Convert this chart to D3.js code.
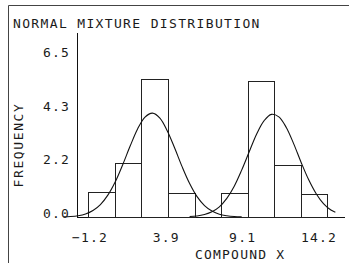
<!DOCTYPE html>
<html>
<head>
<meta charset="utf-8">
<script src="https://cdn.jsdelivr.net/npm/d3@7"></script>
<style>
  body { margin: 0; background: #fff; }
  svg { display: block; }
  text { font-family: "DejaVu Sans Mono", "Liberation Mono", monospace; fill: #1a1a1a; }
</style>
</head>
<body>
<div class="chart"></div>
<script>
// histogram bins (compound x) and frequencies
const binEdges = [-1.33, 0.46, 2.25, 4.04, 5.83, 7.61, 9.40, 11.19, 12.98, 14.77];
const binFreq = [1.01, 2.18, 5.56, 0.97, 0, 0.97, 5.48, 2.10, 0.93];

// fitted normal components
const curve1X = [-3.0, -2.5, -2.0, -1.5, -1.0, -0.5, 0.0, 0.5, 1.0, 1.5, 2.0, 2.5, 3.0, 3.5, 4.0, 4.5, 5.0, 5.5, 6.0, 6.5, 7.0, 7.5, 8.0, 8.5, 9.0];
const curve1Y = [0.01, 0.02, 0.05, 0.12, 0.26, 0.50, 0.88, 1.42, 2.11, 2.86, 3.55, 4.03, 4.19, 3.99, 3.47, 2.77, 2.02, 1.35, 0.82, 0.46, 0.24, 0.11, 0.05, 0.02, 0.01];
const curve2X = [5.5, 6.0, 6.5, 7.0, 7.5, 8.0, 8.5, 9.0, 9.5, 10.0, 10.5, 11.0, 11.5, 12.0, 12.5, 13.0, 13.5, 14.0, 14.5, 15.0, 15.3];
const curve2Y = [0.02, 0.04, 0.10, 0.21, 0.41, 0.75, 1.24, 1.89, 2.62, 3.34, 3.88, 4.14, 4.04, 3.61, 2.95, 2.20, 1.51, 0.95, 0.54, 0.28, 0.19];

const xTicks = [-1.2, 3.933, 9.067, 14.2];
const yTicks = [0, 2.1667, 4.3333, 6.5];

const title = "NORMAL MIXTURE DISTRIBUTION";
const xTitle = "COMPOUND X";
const yTitle = "FREQUENCY";

const width = 349, height = 263;

const svg = d3.select(".chart")
  .append("svg")
  .attr("width", width)
  .attr("height", height);

// outer frame (left + top)
svg.append("path")
  .attr("d", "M8.5,263V5.5H349")
  .attr("fill", "none")
  .attr("stroke", "#444")
  .attr("stroke-width", 1);

const x = d3.scaleLinear()
  .domain([-1.2, 14.2])
  .range([90, 319]);

const y = d3.scaleLinear()
  .domain([0, 7.42])
  .range([217, 33]);

// axes drawn as plain lines, like the plotter did
svg.append("line")
  .attr("x1", 77.5).attr("x2", 77.5)
  .attr("y1", y.range()[1]).attr("y2", y(0))
  .attr("stroke", "#111");

svg.append("line")
  .attr("x1", 77).attr("x2", 345)
  .attr("y1", y(0) + 0.5).attr("y2", y(0) + 0.5)
  .attr("stroke", "#111");

// histogram bars
const bins = binFreq.map((f, i) => ({ x0: binEdges[i], x1: binEdges[i + 1], f: f }))
  .filter(d => d.f > 0);

svg.selectAll("rect.bar")
  .data(bins)
  .enter()
  .append("rect")
  .attr("class", "bar")
  .attr("x", d => Math.round(x(d.x0)) + 0.5)
  .attr("y", d => Math.round(y(d.f)) + 0.5)
  .attr("width", d => Math.round(x(d.x1)) - Math.round(x(d.x0)))
  .attr("height", d => Math.round(y(0)) - Math.round(y(d.f)))
  .attr("fill", "none")
  .attr("stroke", "#222")
  .attr("stroke-width", 1);

// normal curves
const line = d3.line()
  .x(d => x(d[0]))
  .y(d => y(d[1]))
  .curve(d3.curveCatmullRom);

[[curve1X, curve1Y], [curve2X, curve2Y]].forEach(c => {
  svg.append("path")
    .datum(c[0].map((v, i) => [v, c[1][i]]))
    .attr("d", line)
    .attr("fill", "none")
    .attr("stroke", "#111")
    .attr("stroke-width", 1.1);
});

// tick labels
svg.selectAll("text.ytick")
  .data(yTicks)
  .enter()
  .append("text")
  .attr("class", "ytick")
  .attr("x", 70)
  .attr("y", d => y(d) + 1)
  .attr("text-anchor", "end")
  .attr("font-size", 13)
  .attr("letter-spacing", 1.2)
  .text(d => d3.format(".1f")(d));

svg.selectAll("text.xtick")
  .data(xTicks)
  .enter()
  .append("text")
  .attr("class", "xtick")
  .attr("x", d => x(d))
  .attr("y", 242)
  .attr("text-anchor", "middle")
  .attr("font-size", 13)
  .attr("letter-spacing", 1.2)
  .text(d => d3.format(".1f")(d));

// titles
svg.append("text")
  .attr("x", 13)
  .attr("y", 28)
  .attr("font-size", 13)
  .attr("letter-spacing", 1.35)
  .text(title);

svg.append("text")
  .attr("x", 195)
  .attr("y", 259)
  .attr("font-size", 13)
  .attr("letter-spacing", 1.2)
  .text(xTitle);

svg.append("text")
  .attr("transform", "translate(23,145) rotate(-90)")
  .attr("text-anchor", "middle")
  .attr("font-size", 13)
  .attr("letter-spacing", 1.6)
  .text(yTitle);
</script>
</body>
</html>
